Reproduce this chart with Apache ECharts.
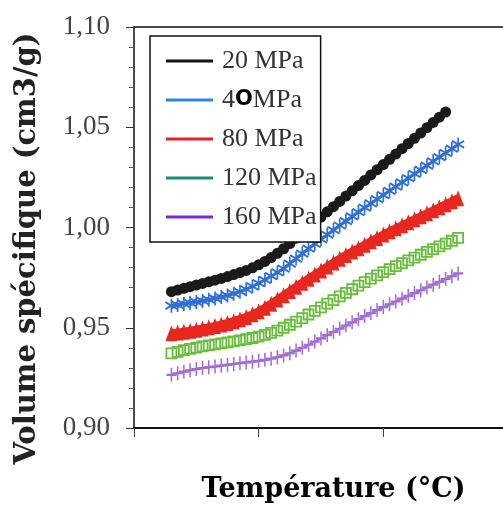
<!DOCTYPE html>
<html>
<head>
<meta charset="utf-8">
<script src="https://cdn.jsdelivr.net/npm/echarts@6/dist/echarts.min.js"></script>
<style>
html,body{margin:0;padding:0;background:#ffffff;}
#chart{width:503px;height:509px;}
</style>
</head>
<body>
<div id="chart"></div>
<script>
// Temperature (°C) sample positions
var temperatures = [30,35,40,45,50,55,60,65,70,75,80,85,90,95,100,105,110,115,120,125,130,135,140,145,150,155,160,165,170,175,180,185,190,195,200,205,210,215,220,225,230,235,240,245,250,255,260];

var seriesNames = ['20 MPa','40 MPa','80 MPa','120 MPa','160 MPa'];

var v20 = [0.9680,0.9688,0.9697,0.9705,0.9713,0.9721,0.9729,0.9737,0.9746,0.9755,0.9765,0.9775,0.9786,0.9799,0.9814,0.9831,0.9850,0.9871,0.9894,0.9920,0.9947,0.9973,0.9999,1.0025,1.0052,1.0078,1.0104,1.0130,1.0157,1.0183,1.0209,1.0235,1.0262,1.0288,1.0314,1.0340,1.0366,1.0393,1.0419,1.0445,1.0471,1.0498,1.0524,1.0550,1.0576];
var v40 = [0.9610,0.9614,0.9619,0.9624,0.9629,0.9634,0.9640,0.9646,0.9653,0.9661,0.9670,0.9680,0.9692,0.9706,0.9722,0.9739,0.9757,0.9776,0.9795,0.9820,0.9845,0.9870,0.9895,0.9918,0.9941,0.9964,0.9987,1.0010,1.0032,1.0055,1.0077,1.0099,1.0120,1.0141,1.0162,1.0183,1.0204,1.0225,1.0246,1.0267,1.0288,1.0309,1.0330,1.0351,1.0372,1.0393,1.0414];
var v80 = [0.9472,0.9476,0.9480,0.9485,0.9490,0.9496,0.9502,0.9509,0.9516,0.9524,0.9533,0.9543,0.9554,0.9567,0.9582,0.9600,0.9620,0.9641,0.9662,0.9683,0.9704,0.9725,0.9745,0.9765,0.9785,0.9805,0.9825,0.9844,0.9863,0.9880,0.9897,0.9914,0.9931,0.9948,0.9965,0.9981,0.9996,1.0011,1.0026,1.0041,1.0056,1.0071,1.0086,1.0101,1.0116,1.0131,1.0146];
var v120 = [0.9372,0.9380,0.9388,0.9395,0.9401,0.9407,0.9412,0.9417,0.9422,0.9427,0.9432,0.9437,0.9443,0.9449,0.9456,0.9464,0.9474,0.9486,0.9500,0.9515,0.9531,0.9548,0.9566,0.9584,0.9602,0.9620,0.9638,0.9656,0.9674,0.9692,0.9710,0.9728,0.9745,0.9761,0.9777,0.9792,0.9807,0.9822,0.9836,0.9850,0.9864,0.9878,0.9892,0.9906,0.9920,0.9934,0.9948];
var v160 = [0.9265,0.9273,0.9281,0.9288,0.9294,0.9299,0.9303,0.9307,0.9311,0.9315,0.9319,0.9323,0.9327,0.9331,0.9335,0.9340,0.9346,0.9353,0.9362,0.9373,0.9386,0.9400,0.9415,0.9431,0.9447,0.9463,0.9479,0.9495,0.9511,0.9527,0.9543,0.9558,0.9573,0.9588,0.9603,0.9617,0.9631,0.9645,0.9659,0.9673,0.9687,0.9701,0.9715,0.9729,0.9743,0.9757,0.9771];

var yTicks = [0.90, 0.95, 1.00, 1.05, 1.10];

function pairs(vals){ return vals.map(function(v,i){ return [temperatures[i], v]; }); }

var chart = echarts.init(document.getElementById('chart'), null, {renderer:'canvas'});

var asterisk = 'path://M0,-6L0,6M-5.2,-3L5.2,3M-5.2,3L5.2,-3';
var plusTall = 'path://M-4.5,0L4.5,0M0,-6.5L0,6.5';

function legendEntry(name, c){
  return {name:name, icon:'rect', itemStyle:{color:c, borderColor:c, borderWidth:0, opacity:1}, lineStyle:{color:c, width:3}};
}

var option = {
  backgroundColor: '#ffffff',
  animation: false,
  grid: {left:134, right:0, top:27, bottom:81, containLabel:false},
  legend: {
    orient:'vertical', left:150, top:36,
    backgroundColor:'#ffffff', borderColor:'#111', borderWidth:1.5, borderRadius:0,
    padding:[12,4,12,16], itemGap:13, itemWidth:47, itemHeight:3,
    icon:'rect',
    textStyle:{fontFamily:'Liberation Serif', fontSize:26, lineHeight:26, color:'#333', padding:[0,0,0,4],
      rich:{
        n:{fontFamily:'Liberation Serif', fontSize:26, color:'#333'},
        o:{fontFamily:'DejaVu Sans', fontSize:21, fontWeight:'bold', color:'#000'}
      }
    },
    formatter:function(name){ return name === '40 MPa' ? '{n|4}{o|O}{n|MPa}' : name; },
    data:[
      legendEntry(seriesNames[0], '#111111'),
      legendEntry(seriesNames[1], '#2a86ea'),
      legendEntry(seriesNames[2], '#e8202a'),
      legendEntry(seriesNames[3], '#1c8a78'),
      legendEntry(seriesNames[4], '#7a2ad8')
    ]
  },
  xAxis: [{
    type:'value', min:0, max:296, interval:100, position:'bottom',
    name:'Température (°C)', nameLocation:'middle', nameGap:48,
    nameTextStyle:{fontFamily:'DejaVu Serif', fontWeight:'bold', fontSize:27, color:'#000', padding:[0,0,0,30]},
    axisLine:{show:true, onZero:false, lineStyle:{color:'#111', width:2}},
    axisTick:{show:true, inside:false, length:9, lineStyle:{color:'#444', width:1}},
    axisLabel:{show:false},
    splitLine:{show:false}
  },{
    type:'value', min:0, max:296, position:'top',
    axisLine:{show:true, onZero:false, lineStyle:{color:'#111', width:1.5}},
    axisTick:{show:false}, axisLabel:{show:false}, splitLine:{show:false}
  }],
  yAxis: {
    type:'value', min:yTicks[0], max:yTicks[yTicks.length-1], interval:0.05,
    name:'Volume spécifique (cm3/g)', nameLocation:'middle', nameGap:92, nameRotate:90,
    nameTextStyle:{fontFamily:'DejaVu Serif', fontWeight:'bold', fontSize:29, color:'#222', padding:[0,42,0,0]},
    axisLine:{show:true, onZero:false, lineStyle:{color:'#111', width:1.5}},
    axisTick:{show:true, inside:false, length:8, lineStyle:{color:'#333', width:1}},
    minorTick:{show:true, splitNumber:5, length:5, lineStyle:{color:'#555', width:1}},
    axisLabel:{margin:24, fontFamily:'Liberation Serif', fontSize:27, color:'#444',
      formatter:function(v){ return v.toFixed(2).replace('.', ','); }},
    splitLine:{show:false}
  },
  series: [
    {name:seriesNames[4], type:'line', data:pairs(v160), symbol:plusTall, symbolSize:[10,14],
      lineStyle:{width:2, color:'#a36cd2'},
      itemStyle:{color:'none', borderColor:'#a36cd2', borderWidth:1.8}, color:'#a36cd2'},
    {name:seriesNames[3], type:'line', data:pairs(v120), symbol:'rect', symbolSize:10,
      lineStyle:{width:0},
      itemStyle:{color:'rgba(0,0,0,0)', borderColor:'#68bd3a', borderWidth:1.8}, color:'#68bd3a'},
    {name:seriesNames[2], type:'line', data:pairs(v80), symbol:'triangle', symbolSize:[12,16],
      lineStyle:{width:8, color:'#e8271f'},
      itemStyle:{color:'#e8271f'}, color:'#e8271f'},
    {name:seriesNames[1], type:'line', data:pairs(v40), symbol:asterisk, symbolSize:[12,14],
      lineStyle:{width:3, color:'#2f6fd6'},
      itemStyle:{color:'none', borderColor:'#2f6fd6', borderWidth:1.8}, color:'#2f6fd6'},
    {name:seriesNames[0], type:'line', data:pairs(v20), symbol:'circle', symbolSize:11,
      lineStyle:{width:7, color:'#1a1a1a'},
      itemStyle:{color:'#1a1a1a'}, color:'#1a1a1a'}
  ]
};
chart.setOption(option);
</script>
</body>
</html>
